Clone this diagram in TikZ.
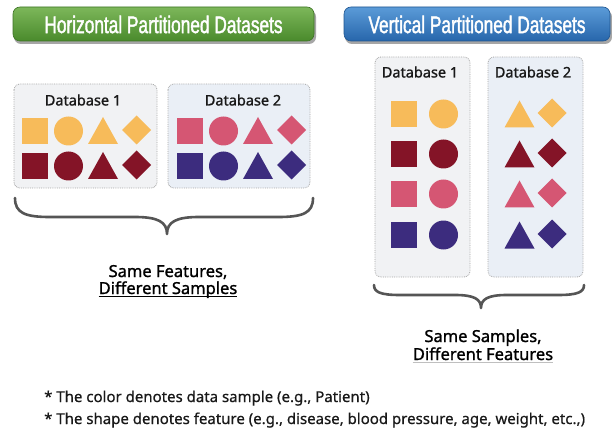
\documentclass[tikz,border=0pt]{standalone}
\usepackage{fontspec}
\setmainfont{Noto Sans}
\newfontfamily\bannerfont[FakeStretch=0.72,FakeBold=1.6]{Liberation Sans}
\newfontfamily\medfont[FakeBold=1.2]{Noto Sans}
\newfontfamily\semifont[FakeBold=0.6]{Noto Sans}
\usetikzlibrary{calc}
\definecolor{cyel}{HTML}{F7BB5A}
\definecolor{cmar}{HTML}{841427}
\definecolor{cpink}{HTML}{D55673}
\definecolor{cpur}{HTML}{3C2C7E}
\definecolor{boxa}{HTML}{F1F2F4}
\definecolor{boxb}{HTML}{EAEFF6}
\definecolor{gtop}{HTML}{7DB75A}
\definecolor{gbot}{HTML}{4A8A2C}
\definecolor{gbrd}{HTML}{3E7426}
\definecolor{btop}{HTML}{5B9BD8}
\definecolor{bbot}{HTML}{2766AB}
\definecolor{bbrd}{HTML}{1F5590}
\definecolor{bracec}{HTML}{555555}
\newcommand{\shsq}[3]{\fill[#3] (#1-13,#2-13) rectangle (#1+13,#2+13);}
\newcommand{\shci}[3]{\fill[#3] (#1,#2) circle[radius=14.5];}
\newcommand{\shtr}[3]{\fill[#3] (#1-15,#2+13.5) -- (#1+15,#2+13.5) -- (#1,#2-13.5) -- cycle;}
\newcommand{\shdi}[3]{\fill[#3] (#1-14.5,#2) -- (#1,#2-14.5) -- (#1+14.5,#2) -- (#1,#2+14.5) -- cycle;}
\tikzset{
  dbbox/.style={draw=gray!70, densely dotted, line width=0.8pt, rounded corners=6},
  dblabel/.style={font=\medfont\fontsize{14.5}{16}\selectfont, text=black!90, inner sep=0},
  banner/.style={font=\bannerfont\fontsize{24}{26}\selectfont, text=white, inner sep=0},
  brace/.style={draw=bracec, line width=2.6pt, line cap=round, line join=round},
  caption/.style={font=\medfont\fontsize{16.5}{18}\selectfont, text=black, inner sep=0},
  note/.style={font=\semifont\fontsize{15}{17}\selectfont, text=black!90, inner sep=0, anchor=base west},
}
\begin{document}
\begin{tikzpicture}[x=1pt,y=-1pt]
\useasboundingbox (0,0) rectangle (612,430);
\fill[white] (0,0) rectangle (612,430);
% banners
\fill[black!35, rounded corners=7] (14,10) rectangle (316,44);
\shade[top color=gtop, bottom color=gbot, rounded corners=7] (13,7) rectangle (314,41);
\draw[gbrd, line width=0.6pt, rounded corners=7] (13,7) rectangle (314,41);
\node[banner] (hban) at (163.5,24.5) {Horizontal Partitioned Datasets};
\fill[black!35, rounded corners=7] (345,10) rectangle (612,44);
\shade[top color=btop, bottom color=bbot, rounded corners=7] (344,7) rectangle (610,41);
\draw[bbrd, line width=0.6pt, rounded corners=7] (344,7) rectangle (610,41);
\node[banner] (vban) at (477,24.5) {Vertical Partitioned Datasets};
% horizontal boxes
\fill[boxa, rounded corners=6] (14,84) rectangle (157,188);
\draw[dbbox] (14,84) rectangle (157,188);
\fill[boxb, rounded corners=6] (168,84) rectangle (310,188);
\draw[dbbox] (168,84) rectangle (310,188);
\node[dblabel] (hdb1) at (83,100) {Database 1};
\node[dblabel] (hdb2) at (243,100) {Database 2};
\shsq{35}{131}{cyel}\shci{68.5}{131}{cyel}\shtr{103}{130.5}{cyel}\shdi{136.5}{130}{cyel}
\shsq{35}{166}{cmar}\shci{68.5}{166}{cmar}\shtr{103}{165.5}{cmar}\shdi{136.5}{165}{cmar}
\shsq{189.5}{131}{cpink}\shci{223.5}{131}{cpink}\shtr{258}{130.5}{cpink}\shdi{291.5}{130}{cpink}
\shsq{189.5}{166}{cpur}\shci{223.5}{166}{cpur}\shtr{258}{165.5}{cpur}\shdi{291.5}{165}{cpur}
% vertical boxes
\fill[boxa, rounded corners=6] (375,57) rectangle (470,277);
\draw[dbbox] (375,57) rectangle (470,277);
\fill[boxb, rounded corners=6] (488,57) rectangle (583,277);
\draw[dbbox] (488,57) rectangle (583,277);
\node[dblabel] (vdb1) at (420,72) {Database 1};
\node[dblabel] (vdb2) at (533,72) {Database 2};
\shsq{404}{114}{cyel}\shci{443.5}{114}{cyel}\shtr{519.5}{114}{cyel}\shdi{552}{113}{cyel}
\shsq{404}{154}{cmar}\shci{443.5}{154}{cmar}\shtr{519.5}{154}{cmar}\shdi{552}{153}{cmar}
\shsq{404}{194}{cpink}\shci{443.5}{194}{cpink}\shtr{519.5}{194}{cpink}\shdi{552}{193}{cpink}
\shsq{404}{235}{cpur}\shci{443.5}{235}{cpur}\shtr{519.5}{235}{cpur}\shdi{552}{234}{cpur}
% braces
\draw[brace] (15,198) .. controls (15,213) and (25,217) .. (50,217) -- (135,217)
  .. controls (158,217) and (167,222) .. (167,234)
  .. controls (167,222) and (176,217) .. (199,217) -- (278,217)
  .. controls (303,217) and (313,213) .. (313,198);
\draw[brace] (374,285) .. controls (374,292) and (380,295) .. (400,295) -- (455,295)
  .. controls (474,295) and (481,299) .. (481,308)
  .. controls (481,299) and (488,295) .. (507,295) -- (558,295)
  .. controls (578,295) and (584,292) .. (584,285);
% captions
\node[caption, anchor=base] (hc1) at (168,277) {Same Features,};
\node[caption, anchor=base] (hc2) at (168,294) {Different Samples};
\draw[black, line width=0.9pt] ([yshift=-2.5]hc2.base west) -- ([yshift=-2.5]hc2.base east);
\node[caption, anchor=base] (vc1) at (483,342) {Same Samples,};
\node[caption, anchor=base] (vc2) at (483,360) {Different Features};
\draw[black!25, line width=0.9pt] ([yshift=-2.5]vc2.base west) -- ([yshift=-2.5]vc2.base east);
% notes
\node[note] (n1) at (44,402) {* The color denotes data sample (e.g., Patient)};
\node[note] (n2) at (44,424) {* The shape denotes feature (e.g., disease, blood pressure, age, weight, etc.,)};
\end{tikzpicture}
\end{document}
